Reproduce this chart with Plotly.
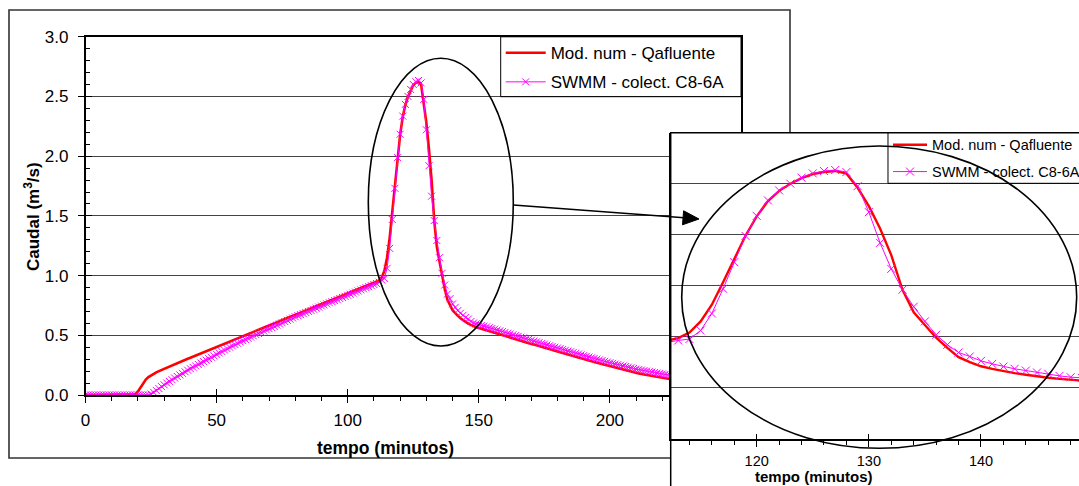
import plotly.graph_objects as go

W, H = 1079, 486
def fx(p):
    return p / W
def fy(p):
    return 1 - p / H

# ---- data (minutes, m3/s) ----
tempo = list(range(0, 233))

q_mod = [
    0, 0, 0, 0, 0, 0, 0, 0, 0, 0,
    0, 0, 0, 0, 0, 0, 0, 0, 0, 0.005,
    0.03, 0.065, 0.10, 0.13, 0.15, 0.165, 0.178, 0.19, 0.20, 0.21,
    0.219, 0.228, 0.238, 0.248, 0.257, 0.266, 0.276, 0.285, 0.294, 0.303,
    0.312, 0.321, 0.33, 0.339, 0.348, 0.357, 0.366, 0.375, 0.384, 0.393,
    0.402, 0.411, 0.42, 0.429, 0.438, 0.447, 0.456, 0.465, 0.474, 0.483,
    0.492, 0.501, 0.51, 0.519, 0.528, 0.537, 0.546, 0.555, 0.564, 0.573,
    0.582, 0.591, 0.6, 0.609, 0.618, 0.627, 0.636, 0.645, 0.654, 0.663,
    0.672, 0.681, 0.69, 0.699, 0.708, 0.717, 0.726, 0.735, 0.744, 0.753,
    0.762, 0.771, 0.78, 0.789, 0.798, 0.807, 0.816, 0.825, 0.834, 0.843,
    0.852, 0.861, 0.87, 0.879, 0.888, 0.897, 0.906, 0.915, 0.924, 0.933,
    0.942, 0.951, 0.96, 0.986, 1.04, 1.15, 1.314, 1.533, 1.756, 1.99,
    2.18, 2.33, 2.43, 2.5, 2.555, 2.595, 2.615, 2.625, 2.6, 2.46,
    2.28, 2.06, 1.8, 1.46, 1.24, 1.12, 0.99, 0.89, 0.8, 0.75,
    0.71, 0.685, 0.662, 0.643, 0.627, 0.611, 0.598, 0.587, 0.575, 0.568,
    0.561, 0.554, 0.547, 0.541, 0.534, 0.527, 0.521, 0.514, 0.507, 0.501,
    0.494, 0.487, 0.481, 0.474, 0.467, 0.461, 0.454, 0.448, 0.441, 0.435,
    0.428, 0.422, 0.415, 0.409, 0.402, 0.396, 0.389, 0.383, 0.377, 0.37,
    0.364, 0.358, 0.351, 0.345, 0.338, 0.332, 0.326, 0.319, 0.313, 0.306,
    0.3, 0.294, 0.288, 0.282, 0.276, 0.27, 0.264, 0.258, 0.252, 0.246,
    0.24, 0.234, 0.229, 0.223, 0.218, 0.212, 0.207, 0.201, 0.196, 0.19,
    0.185, 0.181, 0.176, 0.172, 0.168, 0.164, 0.16, 0.156, 0.152, 0.147,
    0.143, 0.139, 0.135, 0.131, 0.128, 0.124, 0.12, 0.117, 0.113, 0.11,
    0.106, 0.103, 0.099,
]

q_swmm = [
    0, 0, 0, 0, 0, 0, 0, 0, 0, 0,
    0, 0, 0, 0, 0, 0, 0, 0, 0, 0,
    0, 0, 0, 0, 0, 0.008, 0.022, 0.038, 0.054, 0.07,
    0.085, 0.1, 0.114, 0.128, 0.142, 0.155, 0.168, 0.181, 0.194, 0.207,
    0.22, 0.232, 0.244, 0.256, 0.268, 0.28, 0.292, 0.304, 0.316, 0.328,
    0.34, 0.352, 0.364, 0.376, 0.388, 0.4, 0.411, 0.422, 0.433, 0.444,
    0.455, 0.465, 0.475, 0.485, 0.495, 0.505, 0.515, 0.525, 0.535, 0.545,
    0.555, 0.565, 0.575, 0.585, 0.595, 0.605, 0.615, 0.625, 0.635, 0.645,
    0.655, 0.664, 0.673, 0.682, 0.691, 0.7, 0.709, 0.718, 0.727, 0.736,
    0.745, 0.754, 0.763, 0.772, 0.781, 0.79, 0.799, 0.808, 0.817, 0.826,
    0.835, 0.844, 0.853, 0.862, 0.871, 0.88, 0.889, 0.898, 0.907, 0.916,
    0.925, 0.934, 0.945, 0.963, 0.977, 1.061, 1.228, 1.47, 1.731, 1.988,
    2.184, 2.336, 2.434, 2.5, 2.559, 2.601, 2.624, 2.634, 2.614, 2.476,
    2.221, 1.92, 1.665, 1.461, 1.294, 1.15, 1.019, 0.921, 0.845, 0.806,
    0.763, 0.734, 0.707, 0.685, 0.668, 0.649, 0.636, 0.616, 0.603, 0.596,
    0.589, 0.583, 0.577, 0.571, 0.564, 0.557, 0.551, 0.544, 0.537, 0.531,
    0.524, 0.517, 0.511, 0.504, 0.497, 0.491, 0.484, 0.478, 0.471, 0.465,
    0.458, 0.452, 0.445, 0.439, 0.432, 0.426, 0.419, 0.413, 0.407, 0.4,
    0.394, 0.388, 0.381, 0.375, 0.368, 0.362, 0.356, 0.349, 0.343, 0.336,
    0.33, 0.324, 0.318, 0.312, 0.306, 0.3, 0.294, 0.288, 0.282, 0.276,
    0.27, 0.265, 0.259, 0.254, 0.249, 0.243, 0.238, 0.233, 0.228, 0.222,
    0.217, 0.213, 0.208, 0.204, 0.2, 0.196, 0.192, 0.188, 0.184, 0.18,
    0.176, 0.172, 0.168, 0.165, 0.161, 0.158, 0.154, 0.151, 0.147, 0.144,
    0.14, 0.137, 0.133,
]

name_mod = "Mod. num - Qafluente"
name_swmm = "SWMM - colect. C8-6A"
main_xticks = [0, 50, 100, 150, 200]
inset_xticks = [120, 130, 140]

FONT = "Liberation Sans, Arial, Helvetica, sans-serif"
RED = "#FF0000"
MAG = "#FF00FF"

fig = go.Figure()

# main chart
fig.add_trace(go.Scatter(x=tempo, y=q_mod, mode="lines", name=name_mod,
                         line=dict(color=RED, width=2.6),
                         xaxis="x", yaxis="y", legend="legend", legendgroup="a"))
fig.add_trace(go.Scatter(x=tempo, y=q_swmm, mode="lines+markers", name=name_swmm,
                         line=dict(color=MAG, width=1),
                         marker=dict(symbol="x-thin", size=7, line=dict(color=MAG, width=1)),
                         xaxis="x", yaxis="y", legend="legend", legendgroup="b"))
# inset (zoom of the same series)
fig.add_trace(go.Scatter(x=tempo, y=q_mod, mode="lines", name=name_mod,
                         line=dict(color=RED, width=2.4),
                         xaxis="x2", yaxis="y2", legend="legend2", legendgroup="c"))
fig.add_trace(go.Scatter(x=tempo, y=q_swmm, mode="lines+markers", name=name_swmm,
                         line=dict(color=MAG, width=1),
                         marker=dict(symbol="x-thin", size=8, line=dict(color=MAG, width=1)),
                         xaxis="x2", yaxis="y2", legend="legend2", legendgroup="d"))
# helper traces for the inner half of major ticks
fig.add_trace(go.Scatter(x=[None], y=[None], xaxis="x3", yaxis="y3",
                         showlegend=False, hoverinfo="skip"))
fig.add_trace(go.Scatter(x=[None], y=[None], xaxis="x4", yaxis="y2",
                         showlegend=False, hoverinfo="skip"))

main_xdom = [fx(85.5), fx(741)]
main_ydom = [fy(395), fy(36.8)]
ins_xdom = [fx(670.7), 1.0]
ins_ydom = [fy(438.7), fy(132.7)]
ins_range = [112.33, 148.74]

fig.update_layout(
    width=W, height=H,
    margin=dict(l=0, r=0, t=0, b=0, pad=0, autoexpand=False),
    paper_bgcolor="white", plot_bgcolor="white",
    font=dict(family=FONT, color="black", size=17),
    xaxis=dict(domain=main_xdom, range=[0, 250], anchor="y",
               showline=True, linecolor="black", linewidth=1.5, mirror=True,
               ticks="outside", ticklen=6, tickcolor="black", tickwidth=1,
               tickmode="array", tickvals=main_xticks, ticklabelstandoff=3,
               showgrid=False, zeroline=False, tickfont=dict(size=17),
               minor=dict(ticks="outside", ticklen=4, tickcolor="black",
                          tick0=0, dtick=10, showgrid=False)),
    yaxis=dict(domain=main_ydom, range=[0, 3], anchor="x",
               showline=True, linecolor="black", linewidth=1.5, mirror=True,
               ticks="outside", ticklen=6, tickcolor="black",
               dtick=0.5, tick0=0, tickformat=".1f",
               showgrid=True, gridcolor="#444444", gridwidth=1,
               zeroline=False, tickfont=dict(size=17), ticklabelstandoff=6,
               minor=dict(ticks="inside", ticklen=5, tickcolor="black",
                          tick0=0, dtick=0.1, showgrid=False)),
    xaxis3=dict(overlaying="x", anchor="y", range=[0, 250], side="bottom",
                ticks="inside", ticklen=6, tickcolor="black",
                tickmode="array", tickvals=main_xticks, showticklabels=False,
                showline=False, showgrid=False, zeroline=False),
    yaxis3=dict(overlaying="y", anchor="x", range=[0, 3], side="left",
                ticks="inside", ticklen=6, tickcolor="black",
                dtick=0.5, tick0=0, showticklabels=False,
                showline=False, showgrid=False, zeroline=False),
    xaxis2=dict(domain=ins_xdom, range=ins_range, anchor="y2",
                showline=True, linecolor="black", linewidth=1.5,
                ticks="outside", ticklen=7, tickcolor="black",
                tickmode="array", tickvals=inset_xticks, ticklabelstandoff=1,
                showgrid=False, zeroline=False, tickfont=dict(size=14.5),
                minor=dict(ticks="outside", ticklen=5, tickcolor="black",
                           tick0=0, dtick=2, showgrid=False)),
    xaxis4=dict(overlaying="x2", anchor="y2", range=ins_range, side="bottom",
                ticks="inside", ticklen=5, tickcolor="black",
                tickmode="array", tickvals=inset_xticks, showticklabels=False,
                showline=False, showgrid=False, zeroline=False),
    yaxis2=dict(domain=ins_ydom, range=[0, 3], anchor="x2",
                showline=True, linecolor="black", linewidth=1.5,
                ticks="", showticklabels=False, dtick=0.5, tick0=0,
                showgrid=True, gridcolor="#444444", gridwidth=1, zeroline=False),
    legend=dict(x=fx(500.7), y=fy(35.2), xanchor="left", yanchor="top",
                bgcolor="rgba(0,0,0,0)", borderwidth=0,
                font=dict(size=17), itemwidth=40,
                traceorder="grouped", tracegroupgap=4),
    legend2=dict(x=fx(888), y=fy(128.8), xanchor="left", yanchor="top",
                 bgcolor="rgba(0,0,0,0)", borderwidth=0,
                 font=dict(size=14.5), itemwidth=34,
                 traceorder="grouped", tracegroupgap=5),
    showlegend=True,
)

# axis titles
fig.add_annotation(text="<b>tempo (minutos)</b>", x=fx(385), y=fy(447.5),
                   xref="paper", yref="paper", showarrow=False,
                   xanchor="center", yanchor="middle", font=dict(size=17.5))
fig.add_annotation(text="<b>Caudal (m<sup>3</sup>/s)</b>", x=fx(32), y=fy(217),
                   xref="paper", yref="paper", showarrow=False, textangle=-90,
                   xanchor="center", yanchor="middle", font=dict(size=17))
fig.add_annotation(text="<b>tempo (minutos)</b>", x=fx(813.5), y=fy(476.5),
                   xref="paper", yref="paper", showarrow=False,
                   xanchor="center", yanchor="middle", font=dict(size=15))

def P(pts):
    return "M " + " L ".join(f"{fx(a):.5f},{fy(b):.5f}" for a, b in pts)

shapes = [
    # outer frame of main chart (partly hidden by the inset)
    dict(type="path", path=P([(670.7, 458), (9, 458), (9, 10), (790, 10), (790, 132.7)]),
         line=dict(color="#333333", width=1.6)),
    # inset frame
    dict(type="rect", x0=fx(670.7), x1=fx(1090), y0=fy(132.7), y1=fy(500),
         line=dict(color="black", width=1.5)),
    # legend boxes
    dict(type="rect", x0=fx(500.7), x1=fx(741), y0=fy(36.8), y1=fy(96.7),
         line=dict(color="black", width=1)),
    dict(type="path", path=P([(888, 132.7), (888, 183.3), (1090, 183.3)]),
         line=dict(color="black", width=1)),
    # ellipses
    dict(type="circle", x0=fx(368.3), x1=fx(513.3), y0=fy(58.3), y1=fy(346),
         line=dict(color="black", width=1.6)),
    dict(type="circle", x0=fx(681.7), x1=fx(1076.7), y0=fy(146), y1=fy(448.3),
         line=dict(color="black", width=1.6)),
    # arrow
    dict(type="path", path=P([(513.3, 205), (684, 217.8)]),
         line=dict(color="black", width=1.6)),
    dict(type="path", path=P([(699, 219), (682.5, 224.8), (683.6, 210.8)]) + " Z",
         line=dict(color="black", width=1), fillcolor="black"),
]
for s in shapes:
    s.update(xref="paper", yref="paper", layer="above")
    fig.add_shape(**s)

fig.write_html("out.html")
